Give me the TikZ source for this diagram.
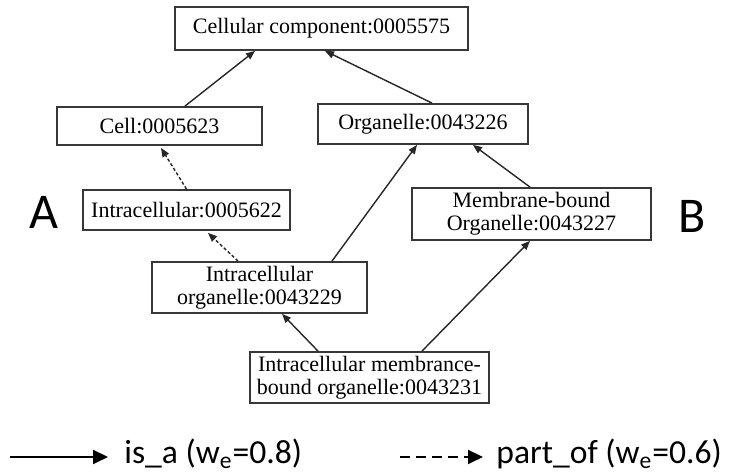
\documentclass[tikz,border=0pt]{standalone}
\usepackage{fontspec}
\setmainfont{Liberation Serif}
\newfontfamily\legendfont{Carlito}
\usetikzlibrary{positioning, arrows.meta}
\definecolor{boxline}{RGB}{55, 55, 55}

\begin{document}
\begin{tikzpicture}[x=0.5pt, y=-0.5pt,
                termbox/.style={draw=boxline, line width=0.9pt, inner sep=1pt,
                    align=center, font=\fontsize{11}{11.5}\selectfont},
                isa/.style={-{Triangle[length=4.5pt, width=3.6pt]}, line width=0.7pt, draw=black!85},
                partof/.style={isa, dash pattern=on 1.6pt off 1.1pt},
                sidelabel/.style={font=\legendfont\fontsize{25}{25}\selectfont},
                keylabel/.style={anchor=west, inner sep=0pt, yshift=1.5pt,
                    font=\legendfont\fontsize{16.8}{17}\selectfont}
            ]
            \useasboundingbox (0, 0) rectangle (730, 474);

            % GO terms
            \node[termbox, minimum width=146.5pt, minimum height=21.5pt] (comp) at (321.5, 28.5)
                {Cellular component:0005575};
            \node[termbox, minimum width=102.5pt, minimum height=19pt] (cell) at (159.5, 126)
                {Cell:0005623};
            \node[termbox, minimum width=105pt, minimum height=20pt] (organ) at (423, 124)
                {Organelle:0043226};
            \node[termbox, minimum width=103.5pt, minimum height=20pt] (intra) at (186.5, 210)
                {Intracellular:0005622};
            \node[termbox, minimum width=107.5pt, minimum height=25.5pt] (iorgan) at (259.5, 287.5)
                {Intracellular\\organelle:0043229};
            \node[termbox, minimum width=119.5pt, minimum height=26pt] (mborgan) at (531.5, 214)
                {Membrane-bound\\Organelle:0043227};
            \node[termbox, minimum width=119.5pt, minimum height=25.5pt] (imborgan) at (369.5, 377.5)
                {Intracellular membrance-\\bound organelle:0043231};

            \node[sidelabel] (sidea) at (44, 212) {A};
            \node[sidelabel] (sideb) at (692, 216) {B};

            % relations
            \draw[isa] ([xshift=12.75pt]cell.north) -- ([xshift=-33.25pt]comp.south);
            \draw[isa] ([xshift=4.5pt]organ.north) -- ([xshift=1.75pt]comp.south);
            \draw[partof] (intra.north) -- ([xshift=0.75pt, yshift=-1pt]cell.south);
            \draw[partof] ([xshift=-10.75pt]iorgan.north) -- ([xshift=10.75pt, yshift=-1pt]intra.south);
            \draw[isa] ([xshift=36.25pt]iorgan.north) -- ([xshift=-3pt]organ.south);
            \draw[isa] ([xshift=-0.75pt]mborgan.north) -- ([xshift=25pt]organ.south);
            \draw[isa] ([xshift=-25.75pt]imborgan.north) -- ([xshift=11.25pt]iorgan.south);
            \draw[isa] ([xshift=26.25pt]imborgan.north) -- ([xshift=-0.75pt]mborgan.south);

            % key
            \coordinate (isafrom) at (10, 457);
            \coordinate (isato) at (108, 457);
            \coordinate (partfrom) at (400, 457);
            \coordinate (partto) at (483, 457);
            \draw[-{Triangle[length=7.5pt, width=7pt]}, line width=1pt] (isafrom) -- (isato);
            \draw[-{Triangle[length=7.5pt, width=7pt]}, line width=1pt, dash pattern=on 5pt off 3pt] (partfrom) -- (partto);
            \node[keylabel, right=8pt of isato] (isatext) {is\_a (w\textsubscript{e}=0.8)};
            \node[keylabel, right=6.5pt of partto] (parttext) {part\_of (w\textsubscript{e}=0.6)};
            \end{tikzpicture}
\end{document}
